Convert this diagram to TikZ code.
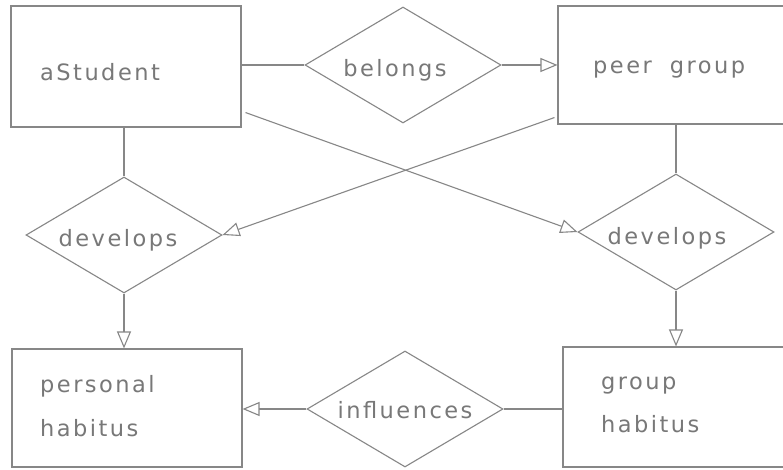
\documentclass[tikz,border=0pt]{standalone}
\usepackage{fontspec}
\newfontfamily\hand[LetterSpace=11]{DejaVu Sans}
\usetikzlibrary{shapes.geometric,arrows.meta,calc}
\definecolor{pencil}{RGB}{135,135,135}
\definecolor{ink}{RGB}{120,120,120}
\begin{document}
\begin{tikzpicture}[x=1pt,y=-1pt,
  ent/.style={draw=pencil,line width=1.1pt,rectangle,inner sep=0pt},
  rel/.style={draw=pencil,line width=1.1pt,diamond,inner sep=0pt,minimum width=196pt,minimum height=116pt},
  txt/.style={text=ink,font=\hand\fontsize{22.5}{26}\selectfont,inner sep=0pt},
  link/.style={draw=pencil,line width=1.1pt},
  arr/.style={link,-{Triangle[open,length=17pt,width=14pt,line width=1.1pt]}}]
\useasboundingbox (0,0) rectangle (783,470);
\clip (0,0) rectangle (783,470);
\fill[white] (0,0) rectangle (783,470);
% entities
\node[ent,minimum width=230pt,minimum height=121pt] (stu) at (126,66.5) {};
\node[ent,minimum width=240pt,minimum height=118pt] (peer) at (678,65) {};
\node[ent,minimum width=230pt,minimum height=118pt] (pers) at (127,408) {};
\node[ent,minimum width=240pt,minimum height=120pt] (grp) at (683,407) {};
% relationships
\node[rel] (bel) at (403,65) {};
\node[rel] (devl) at (124,235) {};
\node[rel] (devr) at (676,232) {};
\node[rel] (inf) at (405,409) {};
% texts
\node[txt,anchor=west] (tstu) at (40,72) {aStudent};
\node[txt] (tbel) at (395,70) {belongs};
\node[txt,anchor=west] (tpeer) at (593,70) {peer\hspace{18pt}group};
\node[txt] (tdevl) at (118,240) {develops};
\node[txt] (tdevr) at (667,238) {develops};
\node[txt] (tinf) at (405,410) {influences};
\node[txt,anchor=west] (tpers1) at (40,386) {personal};
\node[txt,anchor=west] (tpers2) at (40,428) {habitus};
\node[txt,anchor=west] (tgrp1) at (601,386) {group};
\node[txt,anchor=west] (tgrp2) at (601,424) {habitus};
% connectors
\draw[link] (stu.east |- bel.west) -- (bel.west);
\draw[arr] (bel.east) -- (peer.west |- bel.east);
\draw[link] (stu.south -| devl.north) -- (devl.north);
\draw[arr] (devl.south) -- (pers.north -| devl.south);
\draw[link] (peer.south -| devr.north) -- (devr.north);
\draw[arr] (devr.south) -- (grp.north -| devr.south);
\draw[link] (grp.west |- inf.east) -- (inf.east);
\draw[arr] (inf.west) -- (pers.east |- inf.west);
\coordinate (s1) at ($(stu.south east)+(4,-15)$);
\coordinate (p1) at ($(peer.south west)+(-3,-7)$);
\draw[arr] (s1) -- (devr.west);
\draw[arr] (p1) -- (devl.east);
\end{tikzpicture}
\end{document}
